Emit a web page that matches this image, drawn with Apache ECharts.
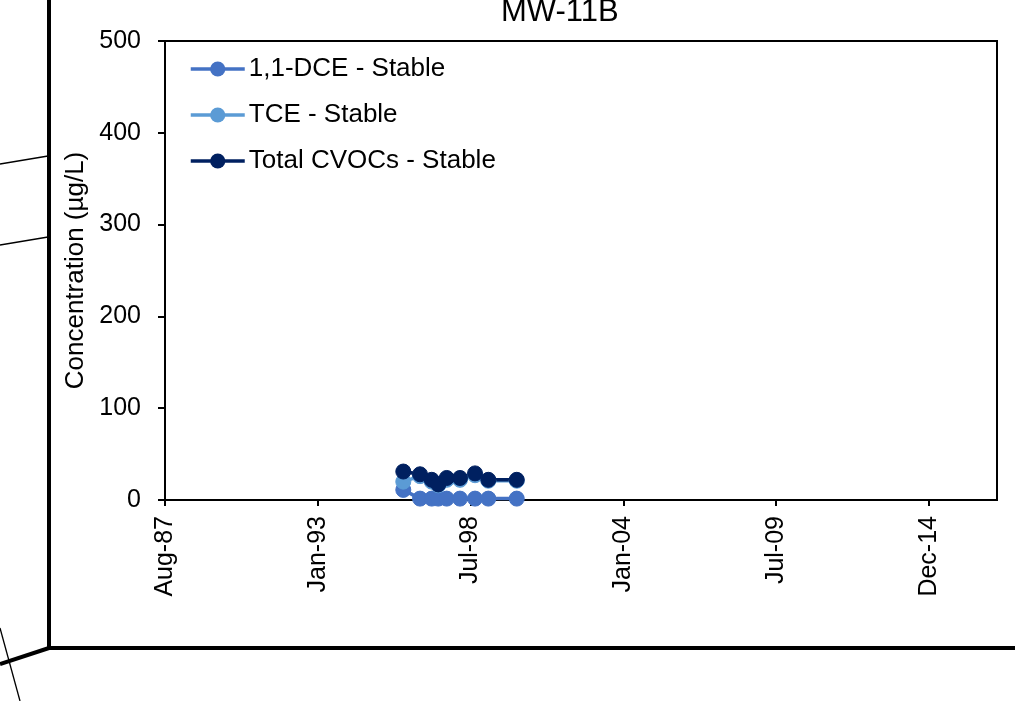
<!DOCTYPE html>
<html>
<head>
<meta charset="utf-8">
<script src="https://cdn.jsdelivr.net/npm/echarts@6/dist/echarts.min.js"></script>
<style>
html,body{margin:0;padding:0;background:#fff;}
#chart{width:1015px;height:701px;}
</style>
</head>
<body>
<div id="chart"></div>
<script>
const sampleDates = ['1996-02-24','1996-09-30','1997-03-02','1997-05-27','1997-09-14','1998-03-07','1998-09-20','1999-03-13','2000-03-19'];
const dceValues   = [11, 1.5, 1.5, 1.5, 1.5, 1.5, 1.5, 1.5, 1.5];
const tceValues   = [20, 26, 20, 16, 22, 22, 27, 21, 21];
const totalValues = [31, 28, 22, 17, 24, 24, 29, 22, 22];
const seriesNames = ['1,1-DCE - Stable', 'TCE - Stable', 'Total CVOCs - Stable'];
const seriesColors = ['#4472C4', '#5B9BD5', '#002060'];
const yTicks = [0, 100, 200, 300, 400, 500];
const months = ['Jan','Feb','Mar','Apr','May','Jun','Jul','Aug','Sep','Oct','Nov','Dec'];

function toSerial(s){
  const p = s.split('-').map(Number);
  return Date.UTC(p[0], p[1]-1, p[2]) / 86400000 + 25569;
}
function serialLabel(v){
  if (Math.round(v) % 2000 !== 0) return '';
  const d = new Date((v - 25569) * 86400000);
  return months[d.getUTCMonth()] + '-' + String(d.getUTCFullYear()).slice(2);
}
const xs = sampleDates.map(toSerial);
function pairs(vals){ return xs.map((x,i)=>[x, vals[i]]); }

const font = '"Liberation Sans", Arial, sans-serif';
const chart = echarts.init(document.getElementById('chart'), null, {renderer:'canvas'});
const mk = (name, vals, color) => ({
  name, type:'line', data: pairs(vals),
  symbol:'circle', symbolSize:15,
  lineStyle:{color, width:3.5},
  itemStyle:{color, borderColor:color},
  animation:false
});
chart.setOption({
  backgroundColor:'#fff',
  animation:false,
  textStyle:{fontFamily:font},
  grid:{left:165, right:18, top:41, bottom:201, show:true, borderColor:'#000', borderWidth:2, backgroundColor:'transparent'},
  legend:{
    data: seriesNames, orient:'vertical', left:184, top:51,
    itemWidth:54, itemHeight:19, itemGap:20,
    lineStyle:{width:3.5},
    textStyle:{fontFamily:font, fontSize:26, color:'#000', padding:[0,0,0,-1]},
    itemStyle:{borderWidth:0}
  },
  xAxis:{
    type:'value', min:32000, max:42890, interval:2000,
    axisLine:{lineStyle:{color:'#000', width:2}},
    axisTick:{show:true, length:6, lineStyle:{color:'#000', width:2}},
    splitLine:{show:false},
    axisLabel:{rotate:90, margin:16, fontSize:25, color:'#000', fontFamily:font, formatter:serialLabel, showMaxLabel:false}
  },
  yAxis:{
    type:'value', min:yTicks[0], max:yTicks[yTicks.length-1], interval:100,
    name:'Concentration (µg/L)', nameLocation:'middle', nameGap:70, nameRotate:90,
    nameTextStyle:{fontSize:26, color:'#000', fontFamily:font},
    axisLine:{show:true, lineStyle:{color:'#000', width:2}},
    axisTick:{show:true, length:7, lineStyle:{color:'#000', width:2}},
    splitLine:{show:false},
    axisLabel:{margin:24, fontSize:25, color:'#000', fontFamily:font}
  },
  graphic:[
    {type:'text', x:501, y:-3, style:{text:'MW-11B', fontSize:31, fontFamily:font, fill:'#000'}},
    {type:'line', shape:{x1:49, y1:0, x2:49, y2:648}, style:{stroke:'#000', lineWidth:4}},
    {type:'line', shape:{x1:47, y1:648, x2:1015, y2:648}, style:{stroke:'#000', lineWidth:4}},
    {type:'line', shape:{x1:49, y1:648, x2:0, y2:664}, style:{stroke:'#000', lineWidth:4}},
    {type:'line', shape:{x1:0, y1:164, x2:48, y2:156}, style:{stroke:'#000', lineWidth:1.3}},
    {type:'line', shape:{x1:0, y1:245, x2:48, y2:237}, style:{stroke:'#000', lineWidth:1.3}},
    {type:'line', shape:{x1:0, y1:628, x2:20, y2:701}, style:{stroke:'#000', lineWidth:1.3}}
  ],
  series:[
    mk(seriesNames[0], dceValues, seriesColors[0]),
    mk(seriesNames[1], tceValues, seriesColors[1]),
    mk(seriesNames[2], totalValues, seriesColors[2])
  ]
});
</script>
</body>
</html>
